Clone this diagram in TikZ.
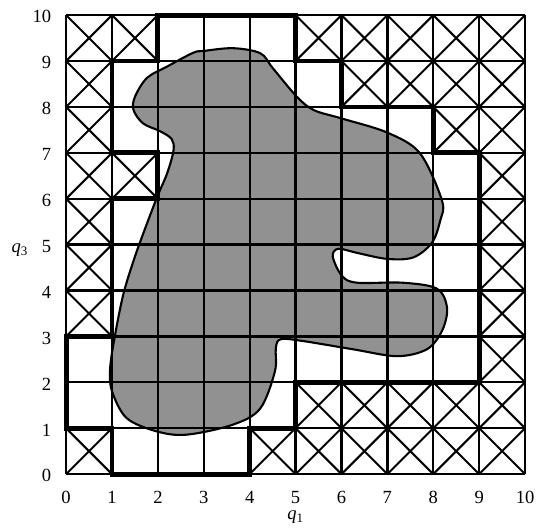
\documentclass[tikz,border=0pt]{standalone}
\usepackage{fontspec}
\setmainfont{Liberation Serif}
\definecolor{blobgray}{gray}{0.57}

\begin{document}
\begin{tikzpicture}[x=1cm, y=1cm,
  gridline/.style={line width=1.45pt},
  xcell/.style={line width=1.25pt},
  bound/.style={line width=3pt, line join=miter},
  tick/.style={font=\fontsize{11.5}{13}\selectfont, inner sep=0pt}]
  \useasboundingbox (-1.44,-1.24) rectangle (10.26,10.33);
  % obstacle in configuration space
  \def\blob{(2.77,9.18) (3.0,9.22) (3.64,9.28) (4.23,9.17) (4.5,8.85) (5.03,8.22) (5.4,7.93)
    (6.0,7.75) (7.0,7.44) (7.71,6.99) (8.19,5.96) (8.15,5.52) (7.97,5.04) (7.56,4.72)
    (6.99,4.69) (6.34,4.82) (5.93,4.91) (5.81,4.74) (6.01,4.32) (6.34,4.17) (7.34,4.17)
    (8.08,4.04) (8.30,3.62) (8.19,3.12) (7.86,2.72) (7.21,2.57) (6.25,2.72) (5.16,2.9)
    (4.68,2.94) (4.57,2.75) (4.55,2.24) (4.23,1.43) (3.64,1.08) (2.63,0.86) (1.98,0.93)
    (1.32,1.22) (1.0,1.81) (0.96,2.31) (1.07,3.05) (1.25,3.93) (1.47,4.65) (1.68,5.24)
    (1.98,6.03) (2.2,6.55) (2.34,7.05) (2.3,7.3) (2.05,7.47) (1.68,7.64) (1.47,7.93)
    (1.5,8.22) (1.76,8.63) (2.2,8.88)}
  \fill[blobgray] plot[smooth cycle, tension=0.55] coordinates {\blob};
  \draw[gridline] (0,0) grid (10,10);
  % forbidden cells
  \foreach \i/\j in {0/9,1/9,5/9,6/9,7/9,8/9,9/9, 0/8,6/8,7/8,8/8,9/8, 0/7,8/7,9/7,
      0/6,1/6,9/6, 0/5,9/5, 0/4,9/4, 0/3,9/3, 9/2, 5/1,6/1,7/1,8/1,9/1,
      0/0,4/0,5/0,6/0,7/0,8/0,9/0}
    \draw[xcell] (\i,\j) -- ++(1,1) (\i+1,\j) -- ++(-1,1);
  \draw[line width=1.3pt] plot[smooth cycle, tension=0.55] coordinates {\blob};
  % boundary of the free cells
  \draw[bound] (2,10) -- (5,10) -- (5,9) -- (6,9) -- (6,8) -- (8,8) -- (8,7) -- (9,7)
    -- (9,2) -- (5,2) -- (5,1) -- (4,1) -- (4,0) -- (1,0) -- (1,1) -- (0,1) -- (0,3)
    -- (1,3) -- (1,6) -- (2,6) -- (2,7) -- (1,7) -- (1,9) -- (2,9) -- cycle;
  \foreach \k in {0,...,10} {
    \node[tick, anchor=base] (xl\k) at (\k,-0.64) {\k};
    \node[tick, anchor=base east] (yl\k) at (-0.32,\k-0.17) {\k};
  }
  \node[tick, anchor=base] (qone) at (5,-0.99) {\textit{q}\textsubscript{1}};
  \node[tick, anchor=base east] (qthree) at (-0.82,4.83) {\textit{q}\textsubscript{3}};
\end{tikzpicture}
\end{document}
